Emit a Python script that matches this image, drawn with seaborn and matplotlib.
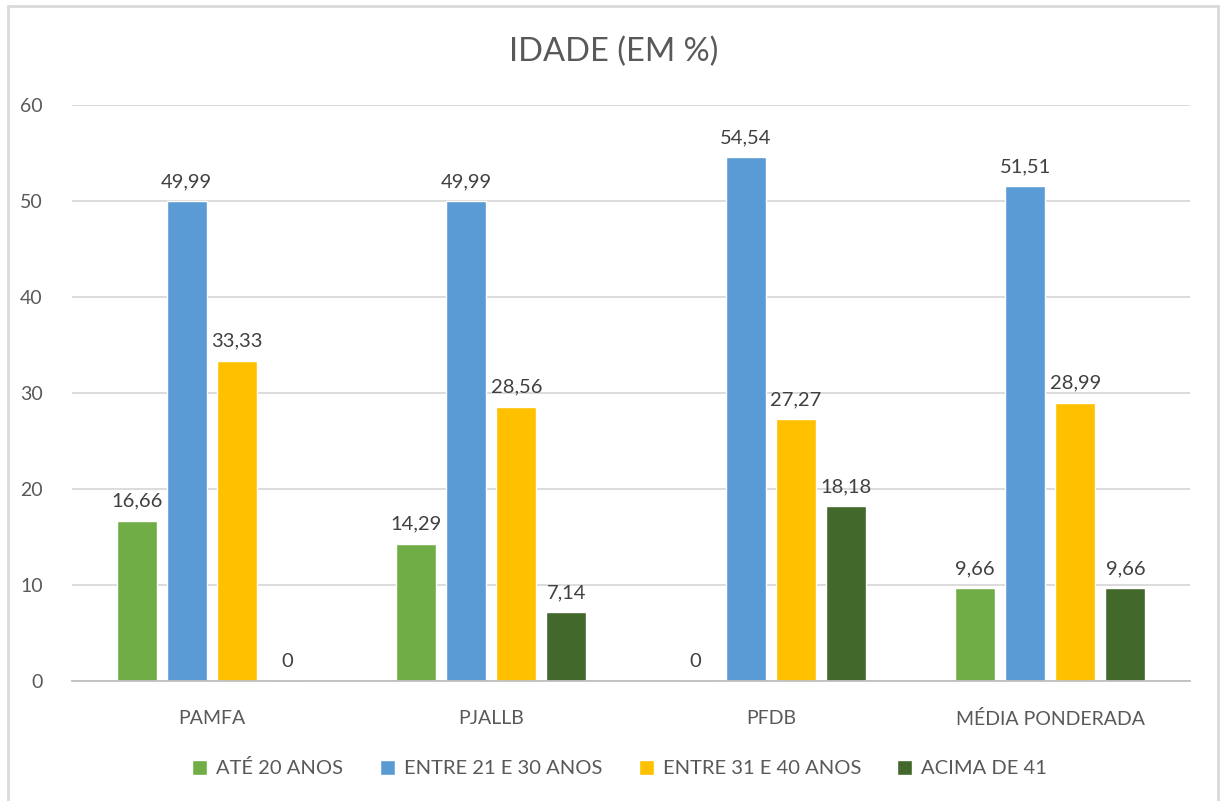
import pandas as pd
import numpy as np
import matplotlib.pyplot as plt
from matplotlib.patches import Rectangle
import seaborn as sns

grupos = ['PAMFA', 'PJALLB', 'PFDB', 'MÉDIA PONDERADA']
faixas = ['ATÉ 20 ANOS', 'ENTRE 21 E 30 ANOS', 'ENTRE 31 E 40 ANOS', 'ACIMA DE 41']
ate20 = [16.66, 14.29, 0, 9.66]
de21a30 = [49.99, 49.99, 54.54, 51.51]
de31a40 = [33.33, 28.56, 27.27, 28.99]
acima41 = [0, 7.14, 18.18, 9.66]
cores = ['#70AD47', '#5B9BD5', '#FFC000', '#43682B']

rows = []
for faixa, vals in zip(faixas, [ate20, de21a30, de31a40, acima41]):
    for g, v in zip(grupos, vals):
        rows.append({'grupo': g, 'faixa': faixa, 'valor': v})
df = pd.DataFrame(rows)

sns.set_style('white')
plt.rcParams['font.family'] = ['Lato', 'DejaVu Sans']

fig = plt.figure(figsize=(12.21, 8.01), dpi=100)
ax = fig.add_axes([0.059, 0.15, 0.9156, 0.719])

sns.barplot(data=df, x='grupo', y='valor', hue='faixa', order=grupos, hue_order=faixas,
            palette=cores, width=0.717, gap=0.2, saturation=1, ax=ax, legend=True)

def fmt(v):
    if v == 0:
        return '0'
    return f'{v:.2f}'.replace('.', ',')

for cont, vals in zip(ax.containers, [ate20, de21a30, de31a40, acima41]):
    ax.bar_label(cont, labels=[fmt(v) for v in vals], padding=8, fontsize=14.5, color='#404040')

ax.set_ylim(0, 60)
ax.set_yticks(np.arange(0, 61, 10))
ax.yaxis.grid(True, color='#D9D9D9', lw=1.3)
ax.set_axisbelow(True)
for s in ['top', 'right', 'left']:
    ax.spines[s].set_visible(False)
ax.spines['bottom'].set_color('#BFBFBF')
ax.spines['bottom'].set_linewidth(1.3)
ax.tick_params(axis='both', length=0, labelsize=14, labelcolor='#595959')
ax.tick_params(axis='x', pad=21)
ax.tick_params(axis='y', pad=21)
ax.set_xlabel('')
ax.set_ylabel('')
ax.set_xlim(-0.5, 3.5)

fig.text(0.503, 0.935, 'IDADE (EM %)', fontsize=23.5, color='#595959', ha='center', va='center')

handles, labels = ax.get_legend_handles_labels()
ax.legend(handles, labels, loc='upper center', bbox_to_anchor=(0.49, -0.105), ncol=4,
          frameon=False, fontsize=14.5, labelcolor='#595959', handlelength=0.75,
          handleheight=0.75, handletextpad=0.45, columnspacing=1.8)

fig.patches.append(Rectangle((8 / 1221, -0.05), 1210 / 1221, 1.05 - 6 / 801,
                             transform=fig.transFigure, fill=False,
                             edgecolor='#D9D9D9', lw=2))

fig.savefig('out.png', dpi=100)
